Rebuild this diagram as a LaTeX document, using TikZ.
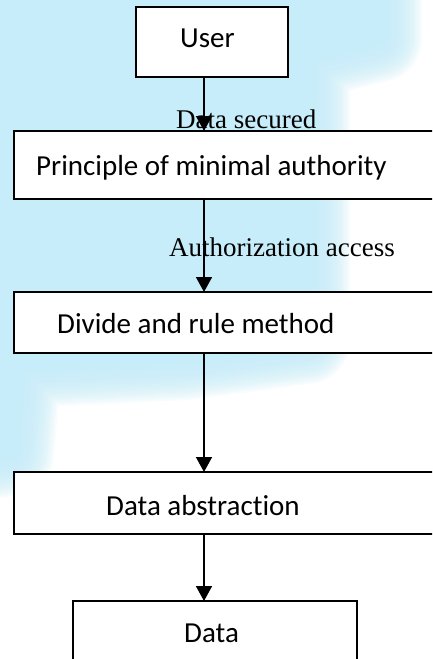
\documentclass[tikz,border=0pt]{standalone}
\usepackage{fontspec}
\setmainfont{Carlito}[Ligatures=NoCommon]
\newfontfamily\labelfont{Liberation Serif}
\usetikzlibrary{arrows.meta}
\definecolor{bgblue}{RGB}{198,237,249}
\tikzset{
  box/.style={draw=black, line width=1.6pt, fill=white, inner sep=0pt, outer sep=0pt},
  boxtext/.style={anchor=base west, inner sep=0pt, font=\fontsize{29}{34}\selectfont},
  flowlabel/.style={anchor=base west, inner sep=0pt, font=\labelfont\fontsize{27}{32}\selectfont},
  flow/.style={line width=1.6pt, -{Triangle[width=16pt,length=15pt]}}
}
\begin{document}
\begin{tikzpicture}[x=1pt,y=-1pt]
\useasboundingbox (0,0) rectangle (432,659);
\clip (0,0) rectangle (432,659);
\fill[white] (0,0) rectangle (432,659);

% pale-blue backdrop with a soft edge: translucent strokes, then the solid core
\def\backdrop{(-60,-60) -- (378,-60) -- (378,38) -- (306,56) -- (306,340)
  -- (185,356) -- (18,364) -- (10,452) -- (-60,462) -- cycle}
\foreach \i in {1,...,20}{
  \draw[bgblue, opacity=0.13, line width=4.4*\i pt, line join=round] \backdrop;
}
\fill[bgblue] \backdrop;

% boxes (left and right edges run off the page where they do)
\node[box, minimum width=152pt, minimum height=70pt] (user) at (212,42) {};
\node[box, minimum width=426pt, minimum height=68pt] (pma)  at (227,165) {};
\node[box, minimum width=426pt, minimum height=61pt] (dnr)  at (227,322.5) {};
\node[box, minimum width=426pt, minimum height=62pt] (abs)  at (227,503) {};
\node[box, minimum width=284pt, minimum height=80pt] (data) at (215,641) {};

% box captions
\node[boxtext] (tuser) at (180,47)  {User};
\node[boxtext] (tpma)  at (36,175)  {Principle of minimal authority};
\node[boxtext] (tdnr)  at (57,333)  {Divide and rule method};
\node[boxtext] (tabs)  at (106,515) {Data abstraction};
\node[boxtext] (tdata) at (184,642) {Data};

% connectors along one vertical axis
\coordinate (axis) at (204,0);
\draw[flow] (user.south -| axis) -- (pma.north -| axis);
\draw[flow] (pma.south -| axis)  -- (dnr.north -| axis);
\draw[flow] (dnr.south -| axis)  -- (abs.north -| axis);
\draw[flow] (abs.south -| axis)  -- (data.north -| axis);

% connector labels
\node[flowlabel] (lsec)  at (176,128) {Data secured};
\node[flowlabel] (lauth) at (169,256) {Authorization access};
\end{tikzpicture}
\end{document}
